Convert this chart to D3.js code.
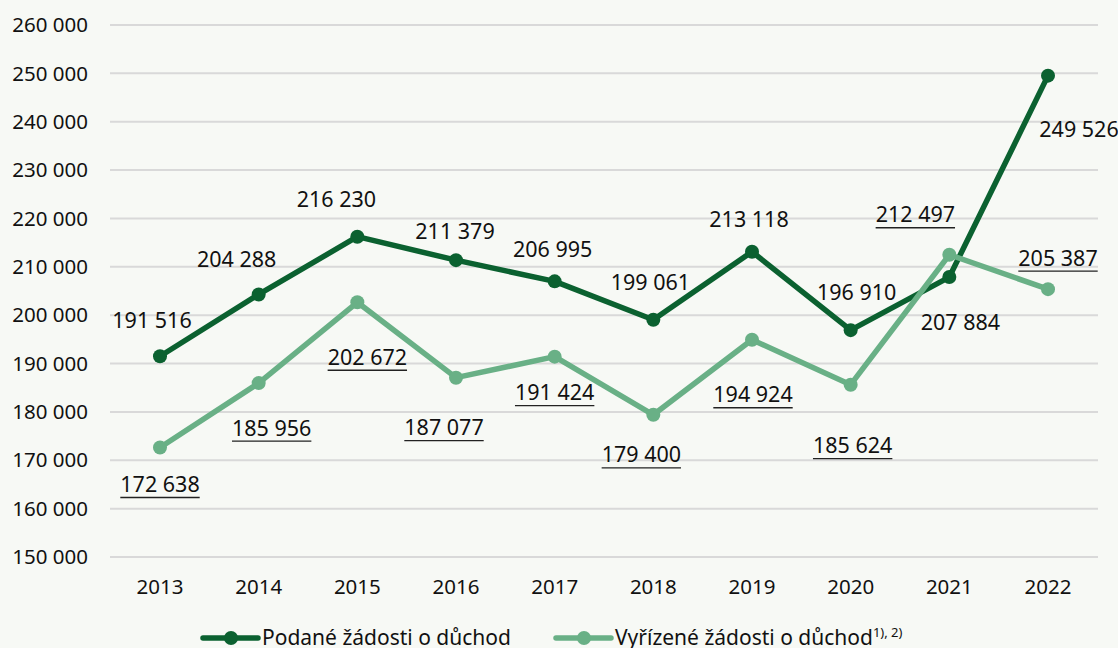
<html lang="cs">
<head>
  <meta charset="utf-8"/>
  <script src="https://d3js.org/d3.v7.min.js"></script>
  <style>
  body { margin:0; background:#f7f9f5; }
  text { font-family:"Noto Sans", sans-serif; fill:#111; }
  .grid line { stroke:#d9d9d9; stroke-width:2px; }
  </style>
</head>
<body>
  <svg id="chart" width="1118" height="648"></svg>
  <script>
    const years = [2013, 2014, 2015, 2016, 2017, 2018, 2019, 2020, 2021, 2022];
    const podane = [191516, 204288, 216230, 211379, 206995, 199061, 213118, 196910, 207884, 249526];
    const vyrizene = [172638, 185956, 202672, 187077, 191424, 179400, 194924, 185624, 212497, 205387];
    const yTicks = [150000, 160000, 170000, 180000, 190000, 200000, 210000, 220000, 230000, 240000, 250000, 260000];
    const seriesNames = ["Podané žádosti o důchod", "Vyřízené žádosti o důchod"];

    // label offsets (dx, dy) from each point, hand placed like the original
    const podaneLbl = [[-8,-36],[-22,-35],[-21,-37],[-1,-29],[-2,-32],[-3,-37],[-3,-32],[6,-38],[11,45],[31,54]];
    const vyrizLbl = [[0,37],[13,45],[10,55],[-12,50],[0,36],[-12,40],[1,55],[2,61],[-34,-40],[10,-31]];

    const svg = d3.select("#chart");
    const fmt = v => d3.format(",")(v).replace(/,/g, " ");

    const x = d3.scalePoint().domain(years).range([160, 1048]);
    const y = d3.scaleLinear().domain([150000, 260000]).range([557, 25]);

    const dark = "#0b6130", light = "#69b086";

    const grid = svg.append("g").attr("class", "grid");
    grid.selectAll("line").data(yTicks).join("line")
      .attr("x1", 110).attr("x2", 1098)
      .attr("y1", d => y(d)).attr("y2", d => y(d));

    svg.append("g").selectAll("text").data(yTicks).join("text")
      .attr("x", 88).attr("y", d => y(d)).attr("dy", "0.35em")
      .attr("text-anchor", "end").style("font-size", "20.5px")
      .text(fmt);

    svg.append("g").selectAll("text").data(years).join("text")
      .attr("x", d => x(d)).attr("y", 587).attr("dy", "0.35em")
      .attr("text-anchor", "middle").style("font-size", "20.5px")
      .text(d => d);

    const line = d3.line().x((d, i) => x(years[i])).y(d => y(d));

    function drawSeries(vals, color, offs, underline) {
      const g = svg.append("g");
      g.append("path").datum(vals).attr("d", line)
        .attr("fill", "none").attr("stroke", color).attr("stroke-width", 5.5)
        .attr("stroke-linejoin", "round");
      g.selectAll("circle").data(vals).join("circle")
        .attr("cx", (d, i) => x(years[i])).attr("cy", d => y(d))
        .attr("r", 7).attr("fill", color);
      const lbl = g.selectAll("g.lbl").data(vals).join("g").attr("class", "lbl")
        .attr("transform", (d, i) => "translate(" + (x(years[i]) + offs[i][0]) + "," + (y(d) + offs[i][1]) + ")");
      lbl.append("text").attr("text-anchor", "middle").attr("dy", "0.35em")
        .style("font-size", "21.5px").text(fmt);
      if (underline) {
        lbl.each(function() {
          const w = d3.select(this).select("text").node().getComputedTextLength();
          d3.select(this).append("line")
            .attr("x1", -w / 2).attr("x2", w / 2).attr("y1", 13).attr("y2", 13)
            .attr("stroke", "#222").attr("stroke-width", 1.3);
        });
      }
    }
    drawSeries(podane, dark, podaneLbl, false);
    drawSeries(vyrizene, light, vyrizLbl, true);

    // legend
    const legend = svg.append("g");
    const legendItems = [{name: seriesNames[0], color: dark, x: 203, sup: ""},
                         {name: seriesNames[1], color: light, x: 556, sup: "1), 2)"}];
    legendItems.forEach(it => {
      legend.append("line").attr("x1", it.x).attr("x2", it.x + 55).attr("y1", 638).attr("y2", 638)
        .attr("stroke", it.color).attr("stroke-width", 5.5).attr("stroke-linecap", "round");
      legend.append("circle").attr("cx", it.x + 28).attr("cy", 638).attr("r", 7).attr("fill", it.color);
      const t = legend.append("text").attr("x", it.x + 59).attr("y", 645).style("font-size", "21px").text(it.name);
      if (it.sup) t.append("tspan").attr("dy", -8).style("font-size", "13px").text(it.sup);
    });
  </script>
</body>
</html>
